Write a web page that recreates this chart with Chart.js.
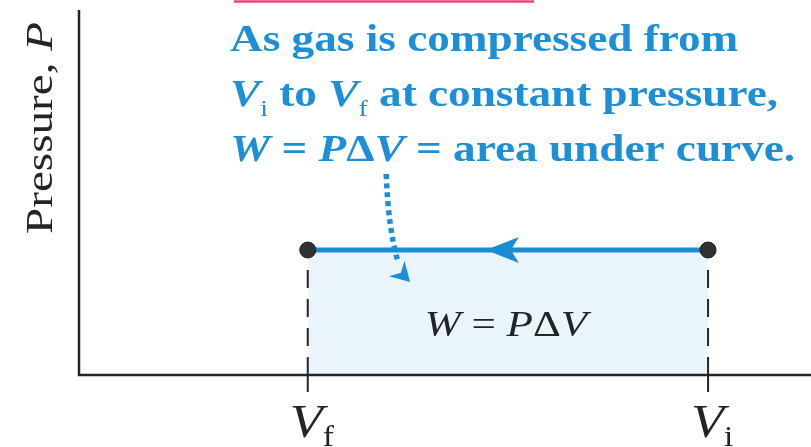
<!DOCTYPE html>
<html>
<head>
<meta charset="utf-8">
<script src="https://cdn.jsdelivr.net/npm/chart.js@4.4.1/dist/chart.umd.min.js"></script>
<style>
  html, body { margin: 0; padding: 0; background: #fff; overflow: hidden; }
  #wrap { width: 811px; height: 447px; position: relative; }
</style>
</head>
<body>
<div id="wrap"><canvas id="pvChart"></canvas></div>
<script>
// Compression at constant pressure: final and initial state
const stateNames = ['f', 'i'];        // subscripts on V
const volumes = [1.0, 2.75];
const pressures = [1, 1];
const volumeRange = [0, 3.2];
const pressureRange = [0, 3];

const noteLines = [
    [{ t: 'As gas is compressed from' }],
    [{ t: 'V', it: true }, { t: 'i', sub: true }, { t: ' to ' }, { t: 'V', it: true }, { t: 'f', sub: true }, { t: ' at constant pressure,' }],
    [{ t: 'W', it: true }, { t: ' = ' }, { t: 'P', it: true }, { t: 'Δ' }, { t: 'V', it: true }, { t: ' = area under curve.' }]
];
const areaLabel = [{ t: 'W', it: true }, { t: ' = ' }, { t: 'P', it: true }, { t: 'Δ' }, { t: 'V', it: true }];
const yTitle = [{ t: 'Pressure, ' }, { t: 'P', it: true }];

const SERIF = '"Liberation Serif", "Times New Roman", serif';
const ink = '#222426';
const blue = '#1b8bd3';
const textBlue = '#1d8fd6';
const shade = '#eaf5fb';

// width of a run list at a given size
function runsWidth(ctx, runs, size, weight) {
    let w = 0;
    runs.forEach(r => {
        const s = r.sub ? size * 0.62 : size;
        ctx.font = (r.it ? 'italic ' : '') + (r.sub ? 'normal' : weight) + ' ' + s + 'px ' + SERIF;
        w += ctx.measureText(r.t).width;
    });
    return w;
}

function drawRuns(ctx, runs, x, y, size, opts) {
    const weight = opts.weight || 'normal';
    const sx = opts.stretch || 1;
    const subDrop = opts.subDrop || 0.26;
    ctx.save();
    ctx.translate(x, y);
    if (opts.rotate) ctx.rotate(opts.rotate);
    ctx.scale(sx, 1);
    let cx = 0;
    if (opts.align === 'center') cx = -runsWidth(ctx, runs, size, weight) / 2;
    ctx.fillStyle = opts.color;
    ctx.textBaseline = 'alphabetic';
    ctx.textAlign = 'left';
    runs.forEach(r => {
        const s = r.sub ? size * 0.62 : size;
        ctx.font = (r.it ? 'italic ' : '') + (r.sub ? 'normal' : weight) + ' ' + s + 'px ' + SERIF;
        ctx.fillText(r.t, cx, r.sub ? size * subDrop : 0);
        cx += ctx.measureText(r.t).width;
    });
    ctx.restore();
}

const diagramPlugin = {
    id: 'pvDiagram',
    afterDatasetsDraw(chart) {
        const ctx = chart.ctx;
        const xs = chart.scales.x, ys = chart.scales.y;
        const area = chart.chartArea;
        const yP = ys.getPixelForValue(pressures[0]);
        const y0 = ys.getPixelForValue(0);
        const px = volumes.map(v => xs.getPixelForValue(v));

        // dashed drops from each state to the volume axis
        ctx.save();
        ctx.strokeStyle = ink;
        ctx.lineWidth = 2;
        px.forEach(x => {
            ctx.setLineDash([18, 11]);
            ctx.beginPath();
            ctx.moveTo(x, yP + 20);
            ctx.lineTo(x, y0 - 18);
            ctx.stroke();
            ctx.setLineDash([]);
            ctx.beginPath();
            ctx.moveTo(x, y0 - 18);
            ctx.lineTo(x, y0 + 17);
            ctx.stroke();
        });
        ctx.restore();

        // axes
        ctx.save();
        ctx.strokeStyle = ink;
        ctx.lineWidth = 2.5;
        ctx.beginPath();
        ctx.moveTo(area.left, 10);
        ctx.lineTo(area.left, y0);
        ctx.lineTo(area.right, y0);
        ctx.stroke();
        ctx.restore();

        // direction arrow on the process line (right to left)
        const tip = px[0] + (px[1] - px[0]) * 0.445;
        ctx.save();
        ctx.fillStyle = blue;
        ctx.beginPath();
        ctx.moveTo(tip, yP);
        ctx.lineTo(tip + 33, yP - 13);
        ctx.lineTo(tip + 25, yP);
        ctx.lineTo(tip + 33, yP + 13);
        ctx.closePath();
        ctx.fill();
        ctx.restore();

        // dotted pointer from the note down into the shaded area
        const sx = xs.getPixelForValue(1.343), sy = 174;
        const ex = xs.getPixelForValue(1.395), ey = yP + 12;
        ctx.save();
        ctx.strokeStyle = textBlue;
        ctx.lineWidth = 5.5;
        ctx.setLineDash([5, 4]);
        ctx.beginPath();
        ctx.moveTo(sx, sy);
        ctx.quadraticCurveTo(sx + 2, sy + 55, ex, ey);
        ctx.stroke();
        ctx.setLineDash([]);
        ctx.fillStyle = textBlue;
        ctx.translate(ex + 12, ey + 20);
        ctx.rotate(Math.PI / 4);
        ctx.beginPath();
        ctx.moveTo(0, 0);
        ctx.lineTo(-19, -11);
        ctx.lineTo(-13, 0);
        ctx.lineTo(-19, 11);
        ctx.closePath();
        ctx.fill();
        ctx.restore();

        // box edge above the note
        ctx.save();
        ctx.fillStyle = '#fdf3f6';
        ctx.fillRect(234, 0, 300, 2);
        ctx.strokeStyle = '#e8467c';
        ctx.lineWidth = 2.5;
        ctx.beginPath();
        ctx.moveTo(234, 1.5);
        ctx.lineTo(534, 1.5);
        ctx.stroke();
        ctx.restore();

        // note text
        noteLines.forEach((runs, k) => {
            drawRuns(ctx, runs, 230, 51 + k * 55, 38, { color: textBlue, weight: 'bold', stretch: 1.19 });
        });

        // label inside the work area
        drawRuns(ctx, areaLabel, (px[0] + px[1]) / 2 - 2, 336, 36, { color: ink, align: 'center', stretch: 1.2 });

        // volume tick labels
        px.forEach((x, k) => {
            drawRuns(ctx, [{ t: 'V', it: true }, { t: stateNames[k], sub: true }], x + 4, 437, 47, { color: ink, align: 'center', stretch: 1.15, subDrop: 0.2 });
        });

        // pressure axis title
        drawRuns(ctx, yTitle, 52, 128, 38, { color: ink, align: 'center', rotate: -Math.PI / 2, stretch: 1.24 });
    }
};

new Chart(document.getElementById('pvChart'), {
    type: 'line',
    data: {
        datasets: [{
            data: volumes.map((v, k) => ({ x: v, y: pressures[k] })),
            borderColor: blue,
            borderWidth: 5,
            backgroundColor: shade,
            fill: 'origin',
            tension: 0,
            pointRadius: 8,
            pointBackgroundColor: '#2f3234',
            pointBorderColor: '#1e2022',
            pointBorderWidth: 1,
            clip: false
        }]
    },
    options: {
        responsive: true,
        maintainAspectRatio: false,
        animation: false,
        layout: { autoPadding: false, padding: { left: 79, right: 0, top: 0, bottom: 72 } },
        scales: {
            x: { type: 'linear', min: volumeRange[0], max: volumeRange[1], display: false },
            y: { type: 'linear', min: pressureRange[0], max: pressureRange[1], display: false }
        },
        plugins: {
            legend: { display: false },
            tooltip: { enabled: false }
        }
    },
    plugins: [diagramPlugin]
});
</script>
</body>
</html>
